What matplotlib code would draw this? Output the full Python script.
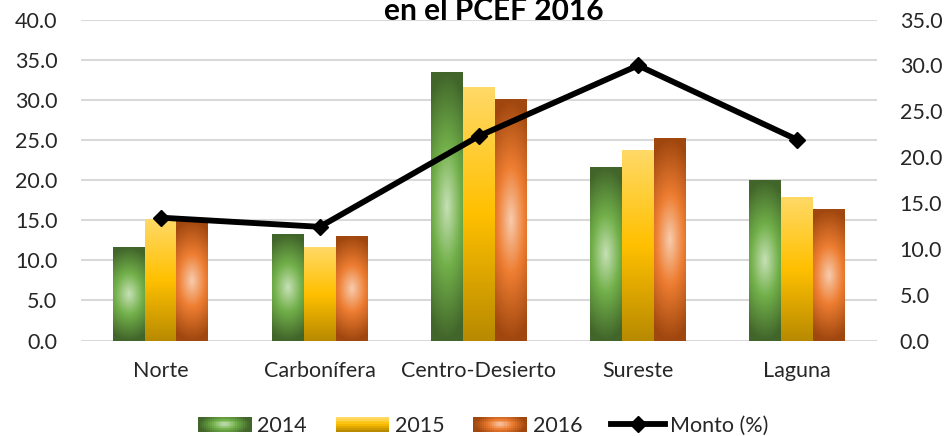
import numpy as np
import matplotlib
matplotlib.use("Agg")
import matplotlib.pyplot as plt
from matplotlib.colors import LinearSegmentedColormap
from matplotlib.legend_handler import HandlerBase
from matplotlib.patches import Rectangle
from matplotlib.lines import Line2D

plt.rcParams['font.family'] = ['Lato', 'DejaVu Sans']

regiones = ["Norte", "Carbonífera", "Centro-Desierto", "Sureste", "Laguna"]
anios = ["2014", "2015", "2016"]
v2014 = [11.7, 13.3, 33.5, 21.6, 20.0]
v2015 = [15.2, 11.7, 31.6, 23.7, 17.9]
v2016 = [15.0, 13.0, 30.1, 25.2, 16.4]
monto = [13.4, 12.4, 22.3, 30.0, 21.9]

left_ticks = np.arange(0, 40.1, 5)
right_ticks = np.arange(0, 35.1, 5)

cmap_verde = LinearSegmentedColormap.from_list(
    "verde", [(0, "#c6e0b5"), (0.45, "#72b04a"), (1, "#41652a")])
cmap_amarillo = LinearSegmentedColormap.from_list(
    "amarillo", [(0, "#b88a00"), (0.5, "#ffc000"), (1, "#ffd966")])
cmap_naranja = LinearSegmentedColormap.from_list(
    "naranja", [(0, "#f8cbad"), (0.45, "#ed7d31"), (1, "#a0470f")])


def radial(nx, ny):
    x = np.linspace(-1, 1, nx)
    y = np.linspace(-1, 1, ny)
    xx, yy = np.meshgrid(x, y)
    return np.clip(np.sqrt((0.5 * xx) ** 2 + yy ** 2), 0, 1)


def vertical(nx, ny):
    y = np.linspace(1, 0, ny)
    return np.tile(y[:, None], (1, nx))


estilos = [(cmap_verde, radial), (cmap_amarillo, vertical), (cmap_naranja, radial)]


class GradHandler(HandlerBase):
    def __init__(self, cmap, kind):
        super().__init__()
        self.cmap = cmap
        self.kind = kind

    def create_artists(self, legend, orig_handle, xdescent, ydescent,
                       width, height, fontsize, trans):
        nx, ny = 26, 8
        if self.kind is radial:
            x = np.linspace(-1, 1, nx)
            y = np.linspace(-1, 1, ny)
            xx, yy = np.meshgrid(x, y)
            g = np.clip(np.sqrt(xx ** 2 + (0.6 * yy) ** 2), 0, 1)
        else:
            g = vertical(nx, ny)
        arts = []
        cw, ch = width / nx, height / ny
        for i in range(ny):
            for j in range(nx):
                r = Rectangle((-xdescent + j * cw, -ydescent + height - (i + 1) * ch),
                              cw * 1.05, ch * 1.05, facecolor=self.cmap(g[i, j]),
                              edgecolor="none", transform=trans)
                arts.append(r)
        return arts


fig = plt.figure(figsize=(9.53, 4.36), dpi=100)
ax = fig.add_axes([0.085, 0.219, 0.835, 0.736])

x = np.arange(len(regiones))
w = 0.2
series = [v2014, v2015, v2016]
for k, vals in enumerate(series):
    bars = ax.bar(x + (k - 1) * w, vals, w, color="none", edgecolor="none")
    cmap, kind = estilos[k]
    for b in bars:
        ax.imshow(kind(30, 120), cmap=cmap, vmin=0, vmax=1, aspect="auto",
                  extent=(b.get_x(), b.get_x() + b.get_width(), 0, b.get_height()),
                  origin="upper", zorder=2, interpolation="bilinear")

ax.set_xlim(-0.5, len(regiones) - 0.5)
ax.set_ylim(0, 40)
ax.set_yticks(left_ticks)
ax.set_yticklabels([f"{t:.1f}" for t in left_ticks])
ax.set_xticks(x)
ax.set_xticklabels(regiones)
ax.yaxis.grid(True, color="#d9d9d9", linewidth=1.5, zorder=0)
ax.set_axisbelow(True)
for s in ax.spines.values():
    s.set_visible(False)
ax.tick_params(axis="both", length=0, labelsize=15.5, colors="#262626")
ax.tick_params(axis="y", pad=17)
ax.tick_params(axis="x", pad=15)

ax2 = ax.twinx()
ax2.plot(x, monto, color="black", linewidth=4.2, marker="D", markersize=8,
         zorder=5)
ax2.set_ylim(0, 35)
ax2.set_yticks(right_ticks)
ax2.set_yticklabels([f"{t:.1f}" for t in right_ticks])
for s in ax2.spines.values():
    s.set_visible(False)
ax2.tick_params(axis="y", length=0, labelsize=15.5, colors="#262626", pad=16.5)

fig.text(0.518, 0.954, "en el PCEF 2016", ha="center", va="baseline",
         fontsize=21.5, fontweight="bold", color="black")

handles = [Rectangle((0, 0), 1, 1) for _ in anios]
linea = Line2D([], [], color="black", linewidth=4.2, marker="D", markersize=8)
hmap = {handles[k]: GradHandler(*estilos[k]) for k in range(3)}
fig.legend(handles + [linea], anios + ["Monto (%)"], handler_map=hmap,
           loc="center", bbox_to_anchor=(0.507, 0.023), ncol=4, frameon=False,
           fontsize=15.5, handlelength=2.5, handleheight=0.7, handletextpad=0.25,
           columnspacing=1.35, labelcolor="#262626")

fig.savefig("out.png", dpi=100)
